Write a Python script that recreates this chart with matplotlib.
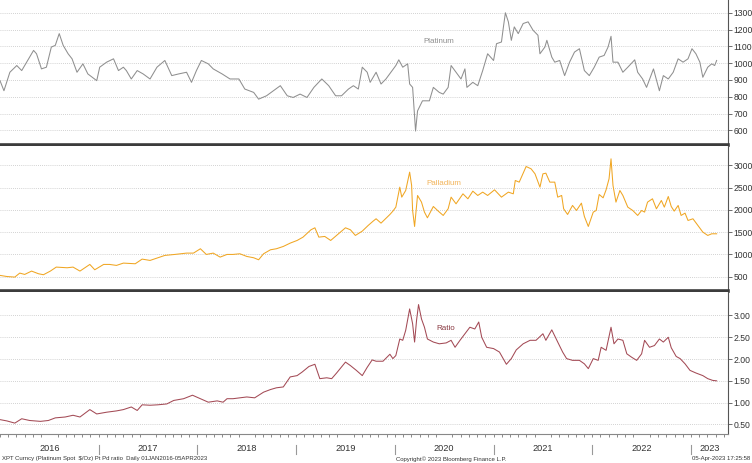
import numpy as np
import matplotlib
matplotlib.use("Agg")
import matplotlib.pyplot as plt

plt.rcParams['font.family'] = ['Liberation Sans', 'DejaVu Sans']

# Platinum spot, $/oz (decimal year, price)
pt_years = [2016.00, 2016.04, 2016.10, 2016.17, 2016.22, 2016.27, 2016.34, 2016.37, 2016.42, 2016.47,
            2016.52, 2016.56, 2016.60, 2016.64, 2016.69, 2016.73, 2016.78, 2016.84, 2016.89, 2016.98,
            2017.01, 2017.08, 2017.15, 2017.20, 2017.25, 2017.28, 2017.33, 2017.39, 2017.45, 2017.52,
            2017.59, 2017.67, 2017.74, 2017.81, 2017.89, 2017.94, 2017.99, 2018.04, 2018.11, 2018.16,
            2018.25, 2018.33, 2018.42, 2018.48, 2018.57, 2018.62, 2018.70, 2018.77, 2018.84, 2018.91,
            2018.97, 2019.04, 2019.11, 2019.18, 2019.26, 2019.33, 2019.40, 2019.46, 2019.53, 2019.58,
            2019.63, 2019.67, 2019.72, 2019.75, 2019.81, 2019.86, 2019.91, 2019.96, 2020.01, 2020.04,
            2020.08, 2020.13, 2020.15, 2020.18, 2020.21, 2020.23, 2020.28, 2020.35, 2020.39, 2020.45,
            2020.49, 2020.54, 2020.57, 2020.62, 2020.67, 2020.71, 2020.73, 2020.79, 2020.84, 2020.89,
            2020.94, 2021.00, 2021.03, 2021.08, 2021.10, 2021.12, 2021.15, 2021.18, 2021.21, 2021.25,
            2021.30, 2021.35, 2021.40, 2021.45, 2021.47, 2021.52, 2021.54, 2021.59, 2021.62, 2021.67,
            2021.72, 2021.77, 2021.82, 2021.87, 2021.92, 2021.97, 2022.02, 2022.07, 2022.12, 2022.16,
            2022.19, 2022.21, 2022.26, 2022.31, 2022.36, 2022.43, 2022.46, 2022.51, 2022.55, 2022.62,
            2022.68, 2022.72, 2022.77, 2022.82, 2022.87, 2022.92, 2022.97, 2023.01, 2023.05, 2023.09,
            2023.12, 2023.17, 2023.21, 2023.24, 2023.26]
pt_price = [896, 836, 946, 986, 956, 1006, 1076, 1056, 966, 976,
            1096, 1106, 1176, 1106, 1056, 1026, 946, 996, 936, 896,
            976, 1006, 1026, 956, 976, 956, 906, 956, 936, 906,
            976, 1016, 926, 936, 946, 886, 956, 1016, 996, 966,
            936, 906, 906, 846, 826, 786, 806, 836, 866, 806,
            796, 816, 796, 856, 906, 866, 806, 806, 846, 866,
            846, 976, 946, 886, 946, 876, 906, 946, 986, 1020,
            976, 996, 876, 856, 596, 716, 776, 776, 856, 826,
            816, 856, 986, 946, 906, 966, 856, 886, 866, 956,
            1056, 1016, 1116, 1126, 1216, 1300, 1246, 1136, 1216, 1176,
            1236, 1246, 1196, 1166, 1056, 1096, 1136, 1036, 1006, 1016,
            926, 1006, 1066, 1086, 956, 926, 976, 1036, 1046, 1096,
            1160, 1006, 1006, 946, 976, 1020, 946, 906, 856, 966,
            836, 926, 906, 946, 1026, 1006, 1026, 1086, 1056, 1006,
            916, 976, 996, 986, 1016]

# Palladium spot, $/oz
pd_years = [2016.00, 2016.07, 2016.15, 2016.20, 2016.25, 2016.32, 2016.39, 2016.44, 2016.51, 2016.57,
            2016.68, 2016.74, 2016.81, 2016.91, 2016.96, 2017.05, 2017.11, 2017.18, 2017.25, 2017.37,
            2017.44, 2017.52, 2017.60, 2017.67, 2017.77, 2017.89, 2017.96, 2018.03, 2018.09, 2018.16,
            2018.23, 2018.30, 2018.36, 2018.43, 2018.50, 2018.57, 2018.62, 2018.67, 2018.74, 2018.80,
            2018.87, 2018.94, 2019.01, 2019.07, 2019.15, 2019.19, 2019.23, 2019.29, 2019.35, 2019.41,
            2019.50, 2019.55, 2019.60, 2019.67, 2019.73, 2019.78, 2019.81, 2019.86, 2019.95, 2019.98,
            2020.01, 2020.05, 2020.07, 2020.11, 2020.15, 2020.17, 2020.18, 2020.20, 2020.23, 2020.27,
            2020.30, 2020.33, 2020.39, 2020.44, 2020.49, 2020.54, 2020.57, 2020.62, 2020.69, 2020.74,
            2020.79, 2020.84, 2020.89, 2020.94, 2021.01, 2021.08, 2021.15, 2021.20, 2021.22, 2021.26,
            2021.33, 2021.38, 2021.42, 2021.47, 2021.50, 2021.53, 2021.57, 2021.62, 2021.65, 2021.69,
            2021.71, 2021.75, 2021.80, 2021.84, 2021.89, 2021.92, 2021.96, 2022.01, 2022.04, 2022.07,
            2022.11, 2022.14, 2022.17, 2022.19, 2022.21, 2022.24, 2022.28, 2022.31, 2022.36, 2022.41,
            2022.46, 2022.50, 2022.53, 2022.56, 2022.61, 2022.65, 2022.70, 2022.73, 2022.77, 2022.80,
            2022.83, 2022.87, 2022.90, 2022.94, 2022.97, 2023.02, 2023.07, 2023.12, 2023.17, 2023.21,
            2023.26]
pd_price = [525, 500, 487, 577, 547, 622, 562, 540, 622, 712,
            697, 712, 622, 772, 652, 772, 772, 750, 802, 787,
            892, 862, 922, 975, 997, 1027, 1027, 1125, 997, 1027,
            937, 997, 997, 1012, 952, 922, 877, 1012, 1102, 1125,
            1177, 1252, 1312, 1387, 1552, 1597, 1387, 1402, 1312, 1425,
            1597, 1552, 1425, 1522, 1650, 1747, 1800, 1702, 1897, 1972,
            2062, 2512, 2287, 2437, 2850, 2550, 1987, 1627, 2325, 2175,
            1950, 1822, 2077, 1972, 1875, 2025, 2287, 2137, 2362, 2250,
            2422, 2325, 2400, 2325, 2452, 2287, 2400, 2362, 2662, 2625,
            2977, 2925, 2812, 2512, 2812, 2827, 2625, 2625, 2287, 2325,
            2025, 1897, 2100, 1987, 2152, 1852, 1627, 1950, 1987, 2347,
            2272, 2452, 2700, 3150, 2550, 2175, 2437, 2325, 2062, 1987,
            1875, 1987, 1950, 2175, 2250, 2025, 2212, 2062, 2302, 2077,
            1972, 2100, 1875, 1927, 1762, 1800, 1650, 1500, 1425, 1462,
            1462]

# Pd / Pt ratio
ratio_years = [2016.00, 2016.07, 2016.15, 2016.22, 2016.30, 2016.41, 2016.49, 2016.56, 2016.66, 2016.74,
               2016.81, 2016.91, 2016.98, 2017.08, 2017.18, 2017.25, 2017.33, 2017.39, 2017.44, 2017.52,
               2017.60, 2017.69, 2017.76, 2017.86, 2017.95, 2018.03, 2018.11, 2018.20, 2018.26, 2018.30,
               2018.36, 2018.43, 2018.50, 2018.58, 2018.67, 2018.74, 2018.80, 2018.87, 2018.94, 2019.01,
               2019.06, 2019.13, 2019.19, 2019.24, 2019.31, 2019.36, 2019.41, 2019.50, 2019.55, 2019.61,
               2019.67, 2019.72, 2019.77, 2019.81, 2019.88, 2019.95, 2019.98, 2020.01, 2020.05, 2020.08,
               2020.11, 2020.15, 2020.18, 2020.20, 2020.22, 2020.24, 2020.27, 2020.30, 2020.33, 2020.39,
               2020.45, 2020.52, 2020.57, 2020.61, 2020.66, 2020.71, 2020.76, 2020.81, 2020.85, 2020.88,
               2020.93, 2021.00, 2021.06, 2021.13, 2021.18, 2021.23, 2021.30, 2021.37, 2021.43, 2021.50,
               2021.53, 2021.59, 2021.65, 2021.70, 2021.74, 2021.80, 2021.87, 2021.92, 2021.96, 2022.01,
               2022.06, 2022.09, 2022.14, 2022.19, 2022.22, 2022.26, 2022.31, 2022.35, 2022.40, 2022.45,
               2022.50, 2022.53, 2022.58, 2022.63, 2022.68, 2022.72, 2022.77, 2022.80, 2022.85, 2022.89,
               2022.94, 2022.99, 2023.05, 2023.12, 2023.17, 2023.22, 2023.26]
ratio_vals = [0.61, 0.58, 0.53, 0.63, 0.59, 0.57, 0.59, 0.65, 0.67, 0.71,
              0.67, 0.84, 0.74, 0.78, 0.81, 0.84, 0.90, 0.82, 0.95, 0.94,
              0.95, 0.97, 1.05, 1.09, 1.17, 1.09, 1.01, 1.04, 1.01, 1.09,
              1.09, 1.11, 1.13, 1.11, 1.24, 1.30, 1.34, 1.36, 1.59, 1.62,
              1.70, 1.83, 1.88, 1.55, 1.57, 1.55, 1.68, 1.93, 1.85, 1.74,
              1.62, 1.81, 1.98, 1.95, 1.95, 2.11, 2.01, 2.08, 2.46, 2.43,
              2.66, 3.15, 2.81, 2.39, 2.89, 3.25, 2.92, 2.73, 2.46, 2.39,
              2.35, 2.37, 2.43, 2.27, 2.43, 2.58, 2.73, 2.69, 2.85, 2.50,
              2.27, 2.24, 2.16, 1.88, 2.01, 2.21, 2.35, 2.43, 2.43, 2.58,
              2.43, 2.67, 2.39, 2.16, 2.01, 1.97, 1.97, 1.89, 1.78, 2.01,
              1.97, 2.27, 2.20, 2.73, 2.35, 2.46, 2.43, 2.12, 2.04, 1.97,
              2.12, 2.43, 2.27, 2.31, 2.46, 2.39, 2.50, 2.26, 2.06, 2.01,
              1.89, 1.74, 1.68, 1.62, 1.55, 1.51, 1.50]

years = [2016, 2017, 2018, 2019, 2020, 2021, 2022, 2023]

W, H = 752, 463
fig = plt.figure(figsize=(W / 100, H / 100), dpi=100)

def px_axes(top, bottom):
    return fig.add_axes([0, 1 - bottom / H, 727.5 / W, (bottom - top) / H])

ax1 = px_axes(0, 144.5)
ax2 = px_axes(145.5, 290.5)
ax3 = px_axes(291.5, 434)

x0, x1 = 2016.0, 2023.37
panels = [
    (ax1, pt_years, pt_price, '#8f8f8f', (516, 1376), np.arange(600, 1301, 100), '%d'),
    (ax2, pd_years, pd_price, '#f0a623', (185, 3450), np.arange(500, 3001, 500), '%d'),
    (ax3, ratio_years, ratio_vals, '#a34a55', (0.28, 3.55), np.arange(0.5, 3.01, 0.5), '%.2f'),
]

for ax, xs, ys, col, ylim, yt, fmt in panels:
    ax.plot(xs, ys, color=col, lw=0.75)
    ax.set_xlim(x0, x1)
    ax.set_ylim(*ylim)
    ax.set_yticks(yt)
    ax.set_yticklabels([fmt % v for v in yt])
    ax.yaxis.tick_right()
    ax.tick_params(axis='y', direction='out', length=3, width=0.6, color='#555555',
                   labelsize=6.2, labelcolor='#333333', pad=1.5)
    ax.grid(axis='y', color='#c4c4c4', lw=0.6, ls=(0, (1, 1.5)))
    ax.set_axisbelow(True)
    for s in ['left', 'top']:
        ax.spines[s].set_visible(False)
    ax.spines['right'].set_color('#555555')
    ax.spines['right'].set_linewidth(0.8)
    ax.set_facecolor('white')

for ax in (ax1, ax2):
    ax.set_xticks([])
    ax.spines['bottom'].set_color('#3c3c3c')
    ax.spines['bottom'].set_linewidth(2.6)

# bottom axis: monthly ticks, year labels between separators
months = [y + m / 12 for y in range(2016, 2024) for m in range(12) if y + m / 12 <= x1]
ax3.set_xticks(months, minor=True)
mids = [(y + min(y + 1, x1)) / 2 for y in years]
ax3.set_xticks(mids)
ax3.set_xticklabels([str(y) for y in years])
ax3.tick_params(axis='x', which='major', length=0, pad=7.5, labelsize=6.6, labelcolor='#333333')
ax3.tick_params(axis='x', which='minor', length=2, width=0.6, color='#777777', direction='out')
ax3.spines['bottom'].set_color('#888888')
ax3.spines['bottom'].set_linewidth(0.8)
for y in years[1:]:
    ax3.plot([y, y], [-0.075, -0.14], color='#999999', lw=0.8,
             transform=ax3.get_xaxis_transform(), clip_on=False)

# series labels
ax1.text(2020.44, 1131, 'Platinum', color='#8f8f8f', fontsize=5.8, ha='center', va='center')
ax2.text(2020.50, 2595, 'Palladium', color='#f2b45a', fontsize=5.8, ha='center', va='center')
ax3.text(2020.52, 2.70, 'Ratio', color='#8a3a42', fontsize=5.8, ha='center', va='center')

# footer
fig.text(0.003, 0.009, 'XPT Curncy (Platinum Spot  $/Oz) Pt Pd ratio  Daily 01JAN2016-05APR2023',
         fontsize=4.3, color='#333333', ha='left', va='center')
fig.text(451 / W, 0.009, 'Copyright\u00a9 2023 Bloomberg Finance L.P.',
         fontsize=4.3, color='#333333', ha='center', va='center')
fig.text(0.998, 0.009, '05-Apr-2023 17:25:58',
         fontsize=4.3, color='#333333', ha='right', va='center')

fig.savefig('out.png', dpi=100, facecolor='white')
